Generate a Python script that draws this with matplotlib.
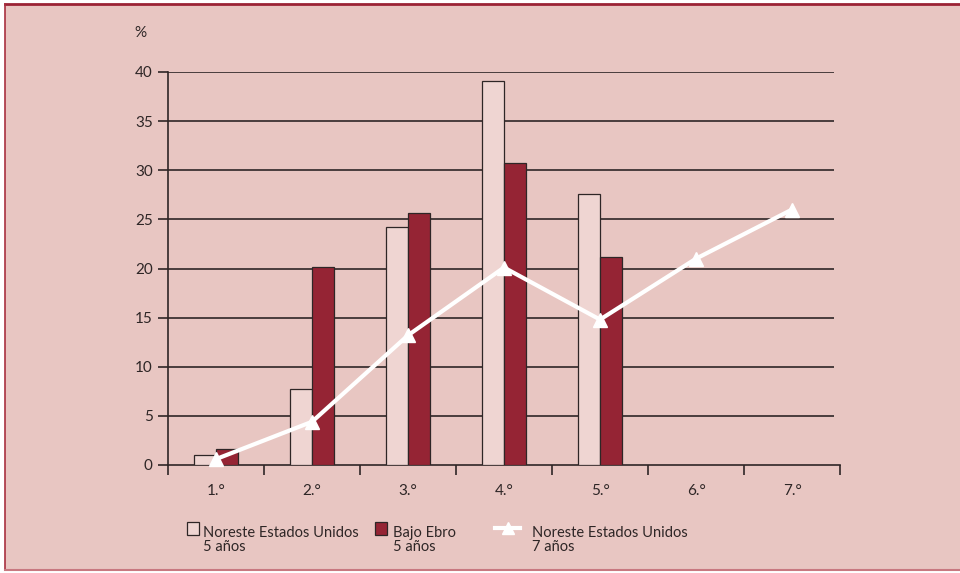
import matplotlib.pyplot as plt
import numpy as np
from matplotlib.patches import Rectangle
from matplotlib.lines import Line2D

# Data
categories = ['1.°', '2.°', '3.°', '4.°', '5.°', '6.°', '7.°']
noreste_5 = [1.0, 7.7, 24.2, 39.1, 27.6]
bajo_ebro_5 = [1.6, 20.2, 25.6, 30.7, 21.2]
noreste_7 = [0.6, 4.4, 13.2, 20.1, 14.8, 21.0, 26.0]
yticks = [0, 5, 10, 15, 20, 25, 30, 35, 40]

bg = '#e8c6c2'
light = '#efd5d2'
dark = '#952434'
ink = '#2e2626'

plt.rcParams['font.family'] = ['Lato', 'DejaVu Sans']

W, H = 960, 573
fig = plt.figure(figsize=(9.6, 5.73), dpi=100, facecolor='white')

# Panel background with border
fig.add_artist(Rectangle((5 / W, 1 - 570 / H), 1, (570 - 4) / H, transform=fig.transFigure,
                         facecolor=bg, edgecolor='none', zorder=-10))
fig.add_artist(Line2D([5 / W, 1], [1 - 4 / H] * 2, transform=fig.transFigure, color='#9b2335', lw=2))
fig.add_artist(Line2D([5 / W] * 2, [1 - 4 / H, 1 - 570 / H], transform=fig.transFigure, color='#a83040', lw=1.2))
fig.add_artist(Line2D([5 / W, 1], [1 - 570 / H] * 2, transform=fig.transFigure, color='#c87880', lw=1.5))

ax = fig.add_axes([168 / W, 1 - 465 / H, (840 - 168) / W, (465 - 72) / H])
ax.set_facecolor('none')

x = np.arange(len(categories))
xb = np.arange(len(noreste_5))
bw = 0.23
ax.bar(xb - bw / 2, noreste_5, bw, color=light, edgecolor=ink, linewidth=0.9, zorder=3)
ax.bar(xb + bw / 2, bajo_ebro_5, bw, color=dark, edgecolor=ink, linewidth=0.9, zorder=3)
ax.plot(x, noreste_7, color='white', lw=3, marker='^', markersize=10, zorder=4, clip_on=False)

ax.set_xlim(-0.5, len(categories) - 0.5)
ax.set_ylim(0, 40)
ax.hlines(yticks[1:], -0.5, 6.44, color=ink, lw=1.2, zorder=1)

for s in ['top', 'right']:
    ax.spines[s].set_visible(False)
for s in ['left', 'bottom']:
    ax.spines[s].set_color(ink)
    ax.spines[s].set_linewidth(1.2)

ax.set_yticks(yticks)
ax.set_yticklabels([str(v) for v in yticks], fontsize=11, color=ink)
ax.tick_params(axis='y', length=7, width=1.2, color=ink, pad=4)
ax.set_xticks(np.arange(-0.5, len(categories)), minor=False)
ax.set_xticklabels([])
ax.tick_params(axis='x', which='major', length=7, width=1.2, color=ink)
ax.set_xticks(x, minor=True)
ax.set_xticklabels(categories, minor=True, fontsize=11, color=ink)
ax.tick_params(axis='x', which='minor', length=0, pad=14)

fig.text(140 / W, 1 - 33 / H, '%', fontsize=11, color=ink, ha='center', va='center')

# Legend drawn by hand
ly = 1 - 528 / H
ty = 1 - 540 / H
fig.add_artist(Rectangle((187 / W, 1 - 535 / H), 12 / W, 13 / H, transform=fig.transFigure,
                         facecolor=light, edgecolor=ink, lw=0.9))
fig.text(203 / W, ty, 'Noreste Estados Unidos\n5 años', fontsize=10.5, color=ink,
         va='center', ha='left', linespacing=1.05)
fig.add_artist(Rectangle((375 / W, 1 - 535 / H), 12 / W, 13 / H, transform=fig.transFigure,
                         facecolor=dark, edgecolor=ink, lw=0.9))
fig.text(393 / W, ty, 'Bajo Ebro\n5 años', fontsize=10.5, color=ink,
         va='center', ha='left', linespacing=1.05)
fig.add_artist(Line2D([495 / W, 520 / W], [ly, ly], transform=fig.transFigure, color='white', lw=3))
fig.add_artist(Line2D([507.5 / W], [ly], transform=fig.transFigure, color='white', marker='^',
                      markersize=8, lw=0))
fig.text(532 / W, ty, 'Noreste Estados Unidos\n7 años', fontsize=10.5, color=ink,
         va='center', ha='left', linespacing=1.05)

fig.savefig('out.png', dpi=100, facecolor='white')
